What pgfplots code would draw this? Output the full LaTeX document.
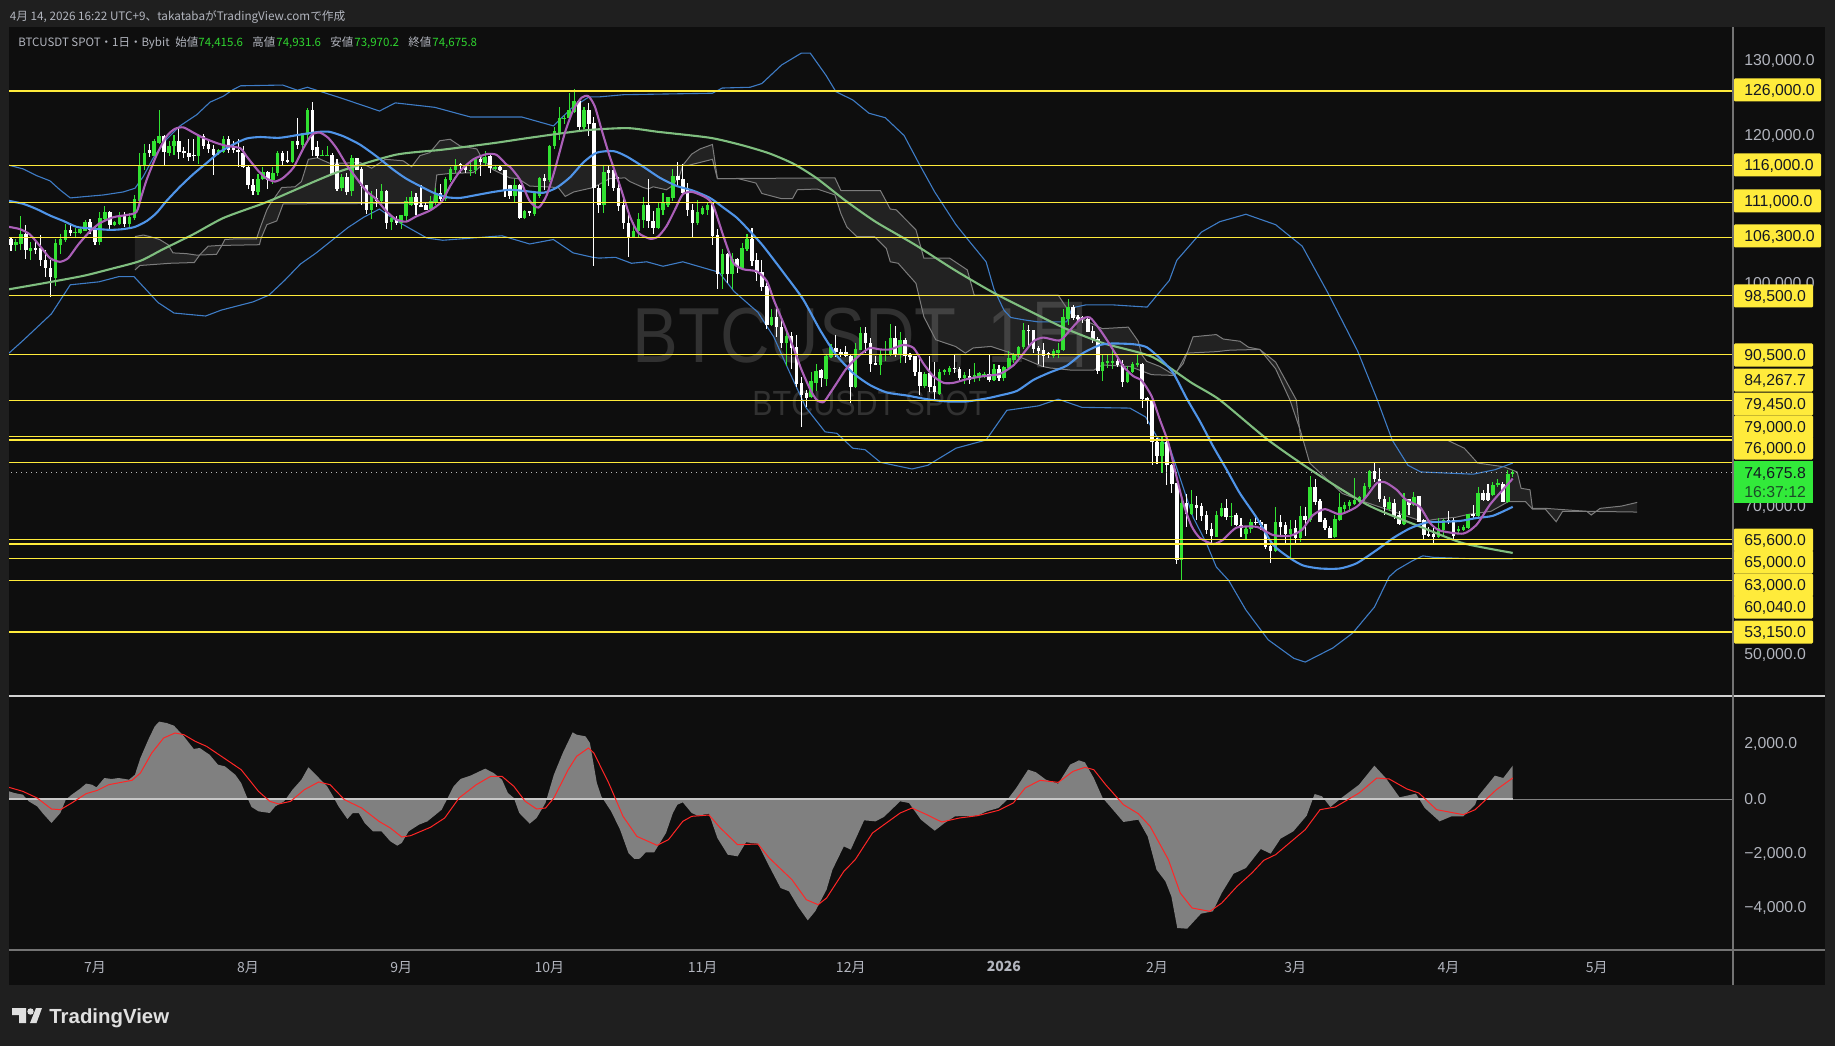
\documentclass[border=0pt]{standalone}
\usepackage{fontspec}
\usepackage{graphicx}
\usepackage{pgfplots}
\usepackage{pgfplotstable}
\pgfplotsset{compat=1.18}
\setmainfont{Liberation Sans}
\newfontfamily\jp{Noto Sans CJK JP}
\definecolor{outer}{HTML}{1F1F1F}
\definecolor{pane}{HTML}{0E0E0E}
\definecolor{cg}{HTML}{32E232}
\definecolor{cw}{HTML}{FFFFFF}
\definecolor{lev}{HTML}{FFEB3B}
\definecolor{mag}{HTML}{AB5FB8}
\definecolor{bm}{HTML}{4F94E8}
\definecolor{bb}{HTML}{3E7CC6}
\definecolor{lma}{HTML}{7FBE7F}
\definecolor{cln}{HTML}{7C7C7C}
\definecolor{ax}{HTML}{B2B5BE}
\definecolor{hdg}{HTML}{2FD42F}
\definecolor{lgreen}{HTML}{32EA3A}
\definecolor{ink}{HTML}{131722}
\definecolor{wm}{HTML}{313131}

\pgfplotstableread{
d o h l c
-17 106.1 106.3 104.4 105.3
-16 105.2 106.1 104.5 105.6
-15 105.4 109.1 104.6 106.8
-14 106.8 107.9 103.4 104.6
-13 104.5 105.6 103.2 104.9
-12 104.9 105.6 104.0 104.6
-11 104.8 106.6 102.4 103.2
-10 103.2 104.6 100.9 102.1
-9 102.2 103.2 98.3 100.9
-8 100.8 106.1 99.7 105.5
-7 105.3 106.7 104.1 106.1
-6 106.0 108.1 105.7 107.3
-5 107.3 108.2 106.5 106.9
-4 106.9 107.6 106.4 107.0
-3 106.9 107.5 106.8 107.4
-2 107.2 108.6 107.2 108.4
-1 108.4 108.8 106.8 107.3
0 107.3 107.8 105.3 105.6
1 105.7 109.7 105.2 108.9
2 108.8 110.5 108.5 109.7
3 109.7 109.9 107.3 107.9
4 107.9 108.5 107.8 108.3
5 108.1 109.7 107.9 109.2
6 109.2 109.7 107.7 108.1
7 108.1 109.6 107.4 109.0
8 108.9 112.0 108.6 111.4
9 111.2 117.6 110.8 116.1
10 116.0 118.9 115.3 117.6
11 118.1 118.8 117.1 117.7
12 117.3 119.5 117.2 119.2
13 119.0 123.4 118.8 119.9
14 119.9 120.1 115.9 117.8
15 117.7 119.2 117.2 118.6
16 118.6 120.1 117.4 119.2
17 119.2 120.9 116.9 117.8
18 117.9 118.5 117.0 117.7
19 117.7 119.6 116.6 117.1
20 117.4 119.6 116.6 117.3
21 117.3 120.1 116.2 119.9
22 120.0 120.2 118.2 118.6
23 118.8 119.5 117.7 118.2
24 118.2 118.7 114.7 117.4
25 117.6 118.2 117.4 118.0
26 117.8 119.9 117.6 119.5
27 119.5 119.9 117.6 118.0
28 118.4 119.3 117.6 118.0
29 118.0 119.5 115.8 117.9
30 117.7 118.6 115.6 115.8
31 115.8 116.1 112.8 113.3
32 113.4 114.1 112.0 112.5
33 112.4 114.8 112.0 114.2
34 114.1 115.8 114.0 115.1
35 115.1 115.2 112.8 114.0
36 114.0 115.8 113.5 115.0
37 114.9 117.9 114.6 117.6
38 117.6 117.9 116.1 116.6
39 116.7 117.9 116.3 116.4
40 116.4 119.3 116.3 119.3
41 119.3 122.3 118.2 118.7
42 118.7 120.4 118.2 120.3
43 120.1 123.7 119.2 123.4
44 123.4 124.5 117.2 118.1
45 118.4 119.3 117.0 117.3
46 117.3 118.0 117.2 117.4
47 117.3 118.6 117.2 117.4
48 117.4 117.6 114.8 114.8
49 116.2 116.8 112.6 112.8
50 113.0 114.8 112.5 114.4
51 114.4 114.9 112.0 112.4
52 112.6 117.4 111.8 117.0
53 117.0 117.0 115.4 115.4
54 115.5 115.8 110.6 113.2
55 113.4 113.4 109.4 110.0
56 110.0 112.5 108.7 111.8
57 111.6 112.8 110.4 111.2
58 111.2 113.5 110.7 112.6
59 112.6 112.7 107.4 108.2
60 108.3 109.0 107.3 108.9
61 108.8 109.2 108.0 108.2
62 108.2 109.3 107.4 109.3
63 109.2 111.7 108.5 111.2
64 110.7 112.6 110.5 111.7
65 111.7 112.2 109.3 110.6
66 110.6 113.4 110.4 110.5
67 110.6 111.0 110.0 110.0
68 110.1 111.8 110.0 111.2
69 111.0 113.0 110.6 112.3
70 112.2 113.5 111.2 111.5
71 111.4 114.4 111.2 114.2
72 114.0 115.8 113.7 115.5
73 115.4 116.8 115.0 116.0
74 116.1 116.3 115.0 116.0
75 116.0 116.0 115.0 115.4
76 115.3 116.7 114.6 115.4
77 115.3 117.1 114.8 116.9
78 116.9 117.2 114.6 116.4
79 116.3 117.9 115.9 117.1
80 117.2 117.4 115.0 115.6
81 115.5 116.0 115.3 115.7
82 115.7 115.9 115.2 115.3
83 115.3 115.4 111.7 112.6
84 113.4 113.4 111.5 111.8
85 111.9 114.1 111.1 113.4
86 113.4 113.5 108.8 108.9
87 108.9 110.0 108.8 109.8
88 109.8 109.9 109.1 109.7
89 109.5 112.5 109.2 112.3
90 111.8 114.4 111.6 114.3
91 114.3 114.8 112.7 113.9
92 114.0 118.7 113.8 118.6
93 118.6 121.1 118.2 120.6
94 120.3 123.8 119.4 122.3
95 122.2 122.8 121.6 122.4
96 122.3 125.7 122.1 123.5
97 123.2 126.3 123.0 124.7
98 124.7 124.9 120.7 121.2
99 121.2 123.9 120.9 123.4
100 123.4 124.4 119.9 121.6
101 121.7 122.5 102.4 113.0
102 112.9 113.4 109.6 110.6
103 110.6 115.9 109.6 115.1
104 115.3 115.9 113.2 114.9
105 115.3 115.5 112.6 113.0
106 113.0 114.4 109.9 110.5
107 110.7 112.1 107.4 108.2
108 108.2 109.6 103.6 106.4
109 106.4 108.4 106.4 107.2
110 107.1 109.6 106.2 108.7
111 108.6 111.7 107.5 110.6
112 110.6 114.1 107.6 108.5
113 108.5 109.8 106.7 107.5
114 107.5 110.9 107.4 110.2
115 110.0 112.2 109.3 111.0
116 110.6 111.7 110.4 111.7
117 111.6 115.5 111.2 114.6
118 114.6 116.5 113.3 114.0
119 114.1 116.2 112.0 112.2
120 113.0 113.6 109.1 110.0
121 110.0 110.8 106.4 108.2
122 108.2 111.3 108.0 109.7
123 109.5 110.5 109.3 110.2
124 110.0 111.0 109.3 110.6
125 111.0 111.0 105.3 106.5
126 106.6 107.4 99.3 101.4
127 101.4 104.7 99.3 104.0
128 104.0 104.2 100.2 101.3
129 101.3 104.2 99.3 103.4
130 103.4 103.5 101.5 102.4
131 102.2 105.5 101.9 104.8
132 104.7 106.8 104.4 106.1
133 106.1 107.6 102.5 103.1
134 103.2 104.2 100.4 101.5
135 101.6 103.3 99.0 99.6
136 99.8 100.2 93.9 94.5
137 94.5 96.7 94.4 95.5
138 95.5 96.6 92.9 94.2
139 94.2 95.2 91.4 92.0
140 92.0 93.6 89.0 93.0
141 93.0 93.6 88.6 91.4
142 91.5 93.1 86.2 86.6
143 86.7 87.5 80.7 85.1
144 85.3 85.7 83.5 84.6
145 84.8 88.2 84.6 86.9
146 86.7 89.2 85.6 88.3
147 88.4 88.6 86.2 87.3
148 87.2 90.6 86.3 90.3
149 90.2 91.9 90.1 91.5
150 91.4 93.2 90.2 90.8
151 90.8 91.2 90.2 90.7
152 90.8 91.6 90.2 90.3
153 90.3 90.5 84.0 86.2
154 86.2 92.0 86.0 91.2
155 91.1 94.2 91.1 93.4
156 93.4 94.2 90.7 92.0
157 92.0 92.7 88.1 89.3
158 89.4 90.3 89.1 89.2
159 89.1 91.1 87.8 90.5
160 90.5 92.3 89.6 90.6
161 90.5 94.6 90.3 92.8
162 92.8 94.4 90.2 90.4
163 90.5 93.6 89.4 92.5
164 92.5 92.7 89.4 90.3
165 90.4 90.7 89.8 90.2
166 90.3 90.3 87.6 88.1
167 88.2 90.0 85.1 86.3
168 86.3 88.2 86.0 87.9
169 88.0 90.3 85.4 86.1
170 86.3 89.5 84.4 85.4
171 85.2 88.5 85.0 88.1
172 88.1 88.6 87.8 88.4
173 88.2 89.0 87.7 88.7
174 88.7 90.6 88.0 88.6
175 88.6 88.8 87.1 87.3
176 87.4 88.1 86.6 87.7
177 87.6 88.5 86.6 87.1
178 87.5 89.4 86.8 87.7
179 87.4 88.1 87.0 88.0
180 87.6 88.2 87.4 87.9
181 87.9 90.4 86.8 87.1
182 87.1 89.3 86.9 88.6
183 88.6 89.1 87.0 87.3
184 87.4 89.0 87.0 88.8
185 88.7 91.0 88.4 90.1
186 89.8 90.7 89.4 90.6
187 90.5 91.7 90.0 91.5
188 91.5 94.8 91.3 93.8
189 93.8 94.5 91.6 93.7
190 93.8 93.8 90.7 91.3
191 91.4 91.6 89.2 91.0
192 91.1 92.0 88.9 90.3
193 90.7 90.9 90.0 90.5
194 90.3 91.3 90.0 91.0
195 90.7 92.0 90.0 91.1
196 91.1 96.6 91.0 95.5
197 95.3 98.0 94.5 96.9
198 96.9 97.2 95.2 95.4
199 95.5 95.8 94.9 95.4
200 95.5 95.7 94.7 95.4
201 95.3 95.6 93.5 93.6
202 93.7 94.3 92.0 92.5
203 92.6 92.9 87.9 88.3
204 88.3 90.6 87.0 89.5
205 89.5 90.5 88.7 89.6
206 89.5 91.1 88.6 89.6
207 89.6 90.0 88.9 89.1
208 89.2 89.8 86.2 86.8
209 86.8 89.0 86.7 88.2
210 88.1 89.5 88.0 89.2
211 89.2 90.5 88.9 89.3
212 89.3 89.4 83.3 84.5
213 84.7 84.8 81.2 84.4
214 84.3 84.4 75.7 78.7
215 78.8 79.3 75.8 76.9
216 76.9 79.5 74.6 78.7
217 78.7 79.3 73.0 75.6
218 75.7 75.8 71.9 73.1
219 73.2 73.2 62.3 62.8
220 62.8 71.7 60.05 70.5
221 70.5 71.7 67.3 69.1
222 69.0 72.3 68.9 70.4
223 70.3 71.5 68.2 69.9
224 70.1 70.5 68.1 68.8
225 68.9 69.4 66.4 66.9
226 67.0 67.8 65.2 66.1
227 66.0 69.5 65.9 68.9
228 68.8 70.5 68.7 69.8
229 69.8 71.0 68.2 68.6
230 68.7 70.5 67.4 68.8
231 68.9 69.2 67.4 67.5
232 67.6 68.5 65.9 67.1
233 66.3 67.4 65.6 67.0
234 67.0 68.3 66.5 67.9
235 68.0 68.7 67.6 67.9
236 68.0 68.2 66.9 67.5
237 67.7 67.7 64.3 64.6
238 64.7 65.0 62.5 64.0
239 64.0 70.0 63.9 68.0
240 68.0 68.9 65.9 67.3
241 67.5 68.0 65.0 66.3
242 66.3 68.2 63.0 67.0
243 67.1 68.2 65.0 65.8
244 65.8 70.1 65.3 68.8
245 68.8 70.0 66.1 68.2
246 68.2 74.1 68.0 72.7
247 72.7 73.7 70.3 70.7
248 70.8 71.0 67.9 68.0
249 68.2 68.5 66.9 67.1
250 67.2 67.4 65.8 65.8
251 65.9 68.9 65.8 68.3
252 68.2 71.8 68.1 70.0
253 69.7 70.7 69.2 70.3
254 70.1 70.9 69.3 70.6
255 70.4 73.9 70.3 70.9
256 70.6 71.4 70.5 71.3
257 71.0 73.2 70.8 72.8
258 72.7 75.0 72.4 74.8
259 74.8 76.0 73.4 73.7
260 73.8 75.2 70.6 71.0
261 71.1 71.4 68.9 70.0
262 69.7 71.3 69.5 70.7
263 70.5 71.0 68.4 68.8
264 68.9 69.4 67.5 67.7
265 67.7 71.8 67.6 71.0
266 71.0 71.0 68.9 70.3
267 70.3 72.0 70.1 71.3
268 71.4 71.5 67.9 68.0
269 68.2 68.3 65.6 66.2
270 66.3 67.3 65.9 66.2
271 66.4 67.1 65.0 65.9
272 65.9 68.5 65.8 67.1
273 66.9 68.4 66.0 68.2
274 68.2 69.4 67.7 68.0
275 68.2 68.5 65.7 66.1
276 66.9 67.4 66.5 67.0
277 66.9 67.6 66.8 67.3
278 67.1 69.1 67.0 69.0
279 69.0 70.2 68.4 68.8
280 68.8 72.7 68.4 71.8
281 71.8 72.3 70.8 70.9
282 71.8 73.1 70.8 70.9
283 71.6 73.4 71.5 72.9
284 73.0 73.7 72.7 73.2
285 73.1 73.4 70.6 70.7
286 70.7 75.0 70.5 74.4
287 74.4156 74.9316 73.9702 74.6758
}\candles

\pgfplotstableread{
d p
-17.4 116.0
-14.5 115.5
-11.8 114.6
-9.1 113.9
-7.1 112.7
-5 111.6
-1.7 111.8
1.7 112
5.7 112.4
8.1 112.9
9.8 114.5
11.8 117
14.5 119.5
17.2 121.3
20.6 122.8
23.3 124.5
26 125.3
28 126.2
29.5 126.7
38 126.8
41 126.1
43 126.5
49.6 125.1
57.6 123.3
60.8 124.4
68.8 123.8
76 122.5
86.4 122.5
92.8 121.3
96.5 123.7
100 125.2
102 125.2
107 125.5
116 125.6
125 125.7
127 126.4
132.6 126.5
135 127
139 129.5
143 131.1
144.8 131.1
148 128.1
150 125.9
153.4 124.8
156.7 123
160 122.4
163.8 120
167 116
170 112.4
174.3 108
176.7 106
180.4 103
182 99.3
184 96.5
185.4 95.5
187.9 95.2
191 94.9
196.7 94.9
197.8 96.8
200.6 97.2
206 97.2
213 96.9
217.5 100.5
219 103.2
224 107
227.7 108.4
233 109.4
239 108
244.4 105.1
249.6 98.8
255.6 91
259.6 84.4
262.6 79
265.8 75.6
268.4 74.7
279 74.4
283.4 75
287 75.9
}\bbup

\pgfplotstableread{
d p
-17.4 90.7
-14.4 92.5
-8.8 96
-5 99.9
0.8 100.3
4.8 101
7.9 101
12.8 97.5
16 96.1
22.4 95.7
25.6 96.5
32 97.6
35.2 98.5
38.4 100.5
41.6 102.7
44.8 104.2
48 105.9
51.2 107.6
54.4 109
57.6 110.1
60.8 108.6
67.2 106.2
70.4 105.9
82.4 106.5
88 105.4
92.8 106
96.8 104.2
100.8 103.6
102 103.5
105.4 103.6
108.6 102.8
111.7 103
115 102.4
119 103
124.7 101.9
126.3 101.6
129.4 99
134.2 96.2
137.4 92.9
140.7 88
143.9 83.4
147.8 80.1
150.2 79.9
153.4 77.9
155.9 77.7
159 76
165.4 75.1
168.6 75.6
174.3 77.9
180.4 79
184.6 83
191 83.6
195 84.5
199.8 83.4
209.5 83.3
212.7 82.1
215 79.4
217.6 78
219.6 74
222.3 68.6
225 65.1
227 61.9
229.5 60.1
233 56.1
237.5 52.1
242.7 49.6
245 49.1
250.6 51
254.6 53
259 56.5
262 60.6
263.5 61.5
266.6 62.7
268.8 63.4
271 63.2
279 63
287 63
}\bblo

\pgfplotstableread{
d p
-17.4 111.2
-14.5 110.8
-11.8 110.1
-9 109.2
-6.4 108.5
-3.7 107.7
-1 107.5
3 107.3
5.7 107.4
8.1 107.7
10.5 108.5
12.5 109.6
14.5 111.2
17.2 113.1
19.9 114.8
22.6 116.3
25.3 117.8
28 118.8
30.7 119.6
33.4 119.8
37.4 119.7
42.2 120.2
45.5 120.5
47.5 120.5
50.3 119.9
53.6 118.8
57 117.2
60.4 115.4
63 114.2
65.8 113.2
68.5 112.3
71.2 111.7
73.9 111.6
77.3 112
80.6 112.4
84 112.7
87.4 112.5
90.8 112.3
93.5 113
96.2 114.4
98.9 116.4
101.6 117.7
105 117.9
107.6 117.2
111 115.8
114.4 114.3
117.8 113.2
121 112.6
124.5 111.6
127.2 110.3
130 108.9
132.6 107.1
135.3 105.1
140 101
143.4 97.9
146.8 93.8
150 90.5
153.5 88
156.9 86.4
160.3 85.4
164.3 85
168.4 84.5
172.4 84.2
176.5 84.2
180.5 84.6
183.2 85
186.6 85.6
190 87.1
193.3 88.1
196.7 89
200 90.7
203.5 91.8
206.1 92
210.2 91.9
212.9 91.5
215.6 90
218.3 88
221 84.6
223.7 81.5
226.4 78.1
229.1 75
231.8 71.8
235.2 68.5
238.5 64.9
241.9 63.1
244.6 62.1
248 61.7
252 61.7
255.4 62.4
259.5 64.2
262.8 65.8
266.2 67.1
269.6 67.9
273 68
276.3 68.1
279.7 68.5
283 68.8
287 70
}\bmid

\pgfplotstableread{
d p
-17.4 107.7
-15.2 107.4
-13.2 106.7
-11.1 105.1
-9.1 103.5
-7.1 103
-5.4 103.5
-3.4 105.3
-1 107.1
1 108.2
3.7 109
6.4 109.3
8.4 109.7
9.4 111.8
10.5 114.1
12.5 117.4
14.5 119.9
16.2 120.9
17.9 121.1
19.9 120.4
21.9 119.7
24.6 119
26.7 118.6
29.4 118.3
30.7 117.2
32 116.1
33.4 115
34.8 114.2
36.4 113.8
38.1 114.3
40.2 115.7
42.2 118.3
43.9 120.1
45.5 120.4
47.2 119.7
48.9 118.3
50.9 116.1
52.9 114.3
55 112.5
57 111.4
59 109.8
61 108.7
63 108.4
65 109.1
67.8 109.9
70.2 111.1
71.9 113.2
73.9 115.2
76.6 116.8
79.3 117.5
81.3 117.4
83.3 116.1
84 115.8
86 114.1
88 111.2
89.8 110.3
91.4 111.9
93.1 115.4
95.1 120.3
96.8 123.4
98.5 125.1
99.9 125.3
101.2 123.9
102.6 120.7
104.2 117.2
106.3 113.2
108.3 109.1
110 106.9
112.4 106.1
114 106.4
115.7 107.8
117.4 110
119 112.1
121 112.4
123.8 111.6
125.2 110.5
127.2 106.5
129.2 102.9
131.2 102
134 101.7
136 100.4
137.4 97.9
139.4 94.7
141.4 91.4
143 88.5
144.8 85.8
146.1 84.4
147.5 84.1
148.8 85.3
150.1 86.6
152.2 88.7
154.9 90.5
156.9 91.4
158.9 91.2
161 91.2
163.6 91.8
165.7 91.4
167.7 89.3
169.7 87.6
171.8 86.7
173.8 86.7
176.5 87.2
179.8 87.6
183.2 87.9
186 89.1
188 90.7
190 92.3
192 92.8
195.3 92.4
197.4 93.8
199.4 95.2
201.4 95.5
203.5 93.8
205.5 91.8
208.2 88.9
210.2 87.6
211.9 87
213.9 84.9
215.6 81.7
217.3 78.6
218.6 75
220.3 70.5
222 67.4
223.7 65.8
226.4 65
228.4 65.6
231.1 67.2
235.2 67.3
238.5 66.2
241.9 66.1
244.3 66.9
246.6 68.9
249 69.7
252 69
255.4 70
257.4 71.4
259.5 73.2
261.2 73.3
263.5 72.3
265.5 70.9
268.2 70
270.3 67.8
272.3 66.8
277 66.4
279.7 67.6
282.4 70.3
285 72.3
287 73.8
}\mashort

\pgfplotstableread{
d p
-17.4 99.3
-10.5 100.1
-2.4 101.1
3 102
9.1 103.1
13.8 104.7
19.9 106.7
26 108.9
33.4 110.7
36.8 111.6
48.8 115
60.8 117.4
70.4 118.1
80.9 119
88 119.7
99.2 120.7
107.8 121
114 120.5
124.5 119.7
131 118.7
136.5 117.6
141.4 116.2
146 114.3
151.8 111.3
158 108.4
166 105.3
174 101.9
182 98.8
190 96.1
196.5 94
204.3 92
214 90.2
222 86.7
227.7 84.4
237.5 79
247 74.6
257.8 70.2
268.4 67.3
277 65.1
287 63.8
}\malong

\pgfplotstableread{
d p
8.1 106.4
9.8 106.6
11.1 106.4
13.1 106
14.8 105.3
15.8 104.2
18.5 104.1
20.6 103.9
24.6 104
25.6 105.1
26.3 106
28.7 106.1
32.7 106.1
33.4 107.5
34.8 110
35.4 110.7
37.8 113
40.5 113.1
41.8 113.8
43.2 116.8
45 117
47.4 116.3
51 116.3
53.6 116.4
56 115.6
58.8 116.8
62.4 116.6
64.1 115.8
65.8 117.3
67.8 117.7
69.8 119.3
71.9 119.5
73.9 118.6
77.3 118.2
78.3 117
80.6 115.4
84 114.3
85.7 114.2
88 113.2
93.8 113
95.2 111.8
96.9 112.4
100.9 113
104.2 114.2
107.3 114.3
108.3 113.8
111 113
112 112.8
113 113.1
115.7 112.7
117 113.3
118.4 114.7
119 116
120.8 117.5
122.5 118.2
125 118.8
126 114.2
130.2 114.2
133.8 113.6
135 112.2
139 111.5
141.2 111.5
142.2 112.7
146.2 112.8
149.8 112
151 109.5
152.2 107.7
154.2 106.4
157.8 106.4
160.2 104.8
161 103
162.6 102.8
166.2 100.1
167.8 95.6
170.2 92.5
174.2 91.6
176.2 90.7
177.8 91.4
181.4 91.6
184.6 90.9
188.6 89.8
191.8 88.9
193.4 88.7
197.8 88.4
202.2 88.4
203.9 89.1
209.5 88.9
213.9 87.8
218.3 87.7
220.3 89.3
222.3 92.9
227 93.2
228.4 92.6
231.8 92.3
233.5 91.5
235.8 91.2
239 88.6
241.9 84.4
244.1 80.1
245.9 75.9
252.5 71.8
256.9 70.7
268.9 68
271 68.3
275.5 68.6
278.1 69
282.6 69.4
286.1 70.7
289.6 70.7
291 69.7
293.6 69.7
295.8 68
297.1 69.4
302 69.4
302.9 68.9
304.7 69.8
309 70.1
312.2 70.6
}\spana

\pgfplotstableread{
d p
8.1 101.9
9.1 102.5
15.2 102.8
20.1 102.9
21.3 104
22.9 105.1
25.3 105.2
33.3 105.3
33.6 106.1
34.8 108
36.8 108.5
38.1 110.8
68.5 110.9
69.2 114.7
71.9 114.9
76.6 115
78.3 116
117.7 116
120.2 116
125 116.8
126 114.2
149.8 114.3
151 112.6
159 112.6
161 110.1
162.2 110
166.2 107.3
167.8 103.5
173 103.5
176.6 101.9
178 98.5
195 98.5
197.4 96.1
203.9 94
209.2 94.2
211.2 92.3
211.9 90.5
212.9 89.6
215.6 88.9
218.6 87.7
221 90.7
227 90.9
229.8 91.1
235.8 91.2
239 89.5
243.2 84.4
244.1 79
273.7 79
277.2 77.9
279.9 75.9
285.2 75.4
287.9 74.7
288.7 72.5
290.5 72.3
291 69.8
293.6 69.8
302 69.4
312.2 69.3
}\spanb

% the cloud between the two spans: span A forward, span B back
\pgfplotstableread{
d p
8.1 106.4
9.8 106.6
11.1 106.4
13.1 106
14.8 105.3
15.8 104.2
18.5 104.1
20.6 103.9
24.6 104
25.6 105.1
26.3 106
28.7 106.1
32.7 106.1
33.4 107.5
34.8 110
35.4 110.7
37.8 113
40.5 113.1
41.8 113.8
43.2 116.8
45 117
47.4 116.3
51 116.3
53.6 116.4
56 115.6
58.8 116.8
62.4 116.6
64.1 115.8
65.8 117.3
67.8 117.7
69.8 119.3
71.9 119.5
73.9 118.6
77.3 118.2
78.3 117
80.6 115.4
84 114.3
85.7 114.2
88 113.2
93.8 113
95.2 111.8
96.9 112.4
100.9 113
104.2 114.2
107.3 114.3
108.3 113.8
111 113
112 112.8
113 113.1
115.7 112.7
117 113.3
118.4 114.7
119 116
120.8 117.5
122.5 118.2
125 118.8
126 114.2
130.2 114.2
133.8 113.6
135 112.2
139 111.5
141.2 111.5
142.2 112.7
146.2 112.8
149.8 112
151 109.5
152.2 107.7
154.2 106.4
157.8 106.4
160.2 104.8
161 103
162.6 102.8
166.2 100.1
167.8 95.6
170.2 92.5
174.2 91.6
176.2 90.7
177.8 91.4
181.4 91.6
184.6 90.9
188.6 89.8
191.8 88.9
193.4 88.7
197.8 88.4
202.2 88.4
203.9 89.1
209.5 88.9
213.9 87.8
218.3 87.7
220.3 89.3
222.3 92.9
227 93.2
228.4 92.6
231.8 92.3
233.5 91.5
235.8 91.2
239 88.6
241.9 84.4
244.1 80.1
245.9 75.9
252.5 71.8
256.9 70.7
268.9 68
271 68.3
275.5 68.6
278.1 69
282.6 69.4
286.1 70.7
289.6 70.7
291 69.7
293.6 69.7
295.8 68
297.1 69.4
302 69.4
302.9 68.9
304.7 69.8
309 70.1
312.2 70.6
312.2 69.3
302 69.4
293.6 69.8
291 69.8
290.5 72.3
288.7 72.5
287.9 74.7
285.2 75.4
279.9 75.9
277.2 77.9
273.7 79
244.1 79
243.2 84.4
239 89.5
235.8 91.2
229.8 91.1
227 90.9
221 90.7
218.6 87.7
215.6 88.9
212.9 89.6
211.9 90.5
211.2 92.3
209.2 94.2
203.9 94
197.4 96.1
195 98.5
178 98.5
176.6 101.9
173 103.5
167.8 103.5
166.2 107.3
162.2 110
161 110.1
159 112.6
151 112.6
149.8 114.3
126 114.2
125 116.8
120.2 116
117.7 116
78.3 116
76.6 115
71.9 114.9
69.2 114.7
68.5 110.9
38.1 110.8
36.8 108.5
34.8 108
33.6 106.1
33.3 105.3
25.3 105.2
22.9 105.1
21.3 104
20.1 102.9
15.2 102.8
9.1 102.5
8.1 101.9
}\cloudpoly

\pgfplotstableread{
d v
-17.4 0
-17.4 281
-16.3 220
-14.6 159
-13.4 -85
-11.7 -269
-10.5 -537
-8.8 -879
-7 -513
-5.9 -24
-4.7 159
-3 379
-1.8 562
-0.6 525
0.3 427
1.9 769
3.4 733
4.8 769
6.9 708
8.1 891
9.2 1502
10.8 2173
12.1 2662
13 2833
14.5 2784
16 2686
18 2295
20 1832
21.2 1868
23.2 1624
24.9 1258
26.3 1197
28.4 891
29.6 586
30.7 98
31.7 -293
33.1 -452
35.4 -513
36.5 -269
38.3 -85
40 342
41.8 708
43.2 1160
44.7 891
47 464
48.2 98
49.3 -269
51.1 -733
52.2 -513
53.4 -513
54.6 -879
56.3 -1184
58 -1184
59.8 -1551
61.2 -1709
62.1 -1612
63.5 -1184
65.6 -940
67.3 -818
70.2 -391
72.6 464
74 733
76 855
79 1111
80.7 952
82.4 708
83.6 220
84.8 37
85.9 -513
88 -904
89.4 -696
91.2 -147
92.9 891
94.7 1685
96.7 2442
97.5 2357
99.3 2295
100.2 2051
101.6 586
102.5 98
104.5 -452
106.3 -1123
108 -1978
109.2 -2198
110.3 -2186
111.5 -1954
113.2 -1954
115.6 -1245
117 -513
117.9 -208
119 -122
120.8 -513
122 -610
124.3 -537
126 -1429
128.1 -2039
130.1 -2100
131.8 -1587
134.2 -1636
136.5 -2466
138.8 -3260
140.5 -3382
142.3 -3932
144.3 -4444
145.8 -4115
148.1 -3321
149.3 -2589
151.6 -1734
153 -1856
155.7 -781
158 -818
159.7 -659
163 -85
164.8 -147
166 -452
167.2 -757
170 -1160
172 -879
174.1 -635
178.7 -610
180.5 -452
182.9 -330
184.7 -24
186.5 403
188.9 1074
190.5 977
192.5 708
195 562
197.4 1258
199.2 1416
200.4 1343
202.2 769
204 37
205.2 -208
208.2 -842
211.2 -757
213.1 -1368
214.9 -2588
216.7 -3016
217.9 -3565
219.1 -4725
221.1 -4750
223.9 -4200
226.3 -4115
228.1 -3443
230.5 -2735
233 -2527
236 -1832
238 -2002
240 -1453
242.6 -1184
245.3 -610
246.9 183
248.4 98
250.1 -293
252.3 37
255.9 525
259 1221
261.3 769
264.1 61
267.4 195
269.2 -330
272.2 -818
274.6 -635
277 -635
279.4 -208
280 98
283.4 855
285.1 769
287 1221
287 0
}\oscarea

\pgfplotstableread{
d v
-17.4 427
-14.6 281
-11.7 37
-8.8 -366
-7 -391
-4.7 -146
-1.8 195
0.5 317
2.8 525
7.5 684
9.2 952
11.5 1685
13.9 2234
16.2 2418
18 2357
20.3 2112
22.6 1929
26.1 1502
29.6 1074
33.1 281
35.4 -85
37.2 -183
39.6 -85
42.4 342
45.3 623
47.6 525
50.5 -24
54 -330
57.5 -818
59.8 -1062
62.1 -1392
63.9 -1343
67.9 -1037
70.8 -696
73.7 37
77.2 525
80.1 830
82.4 830
84.8 464
87.1 -85
89.4 -366
91.2 -330
92.9 37
95.8 1074
97.5 1563
99.9 1868
101 1685
104 586
106.9 -635
109.7 -1368
113.8 -1697
116.1 -1489
119 -818
120.8 -635
124.3 -586
126.6 -1062
130.1 -1673
134.2 -1648
136.5 -2161
141.1 -2955
144 -3688
146.4 -3871
148.1 -3627
151.6 -2650
153.9 -2222
157.4 -1245
163 -513
165.4 -330
168.4 -574
171.4 -842
175 -696
178.7 -610
182.9 -415
185.9 -147
188.3 403
191.3 684
195 610
198 1013
200.4 1160
202.2 1074
204.6 525
208.2 -208
211.2 -537
213.6 -1001
217.3 -2222
219.7 -3443
222.1 -3993
225.7 -4115
228.1 -3810
231.2 -3199
234.2 -2711
236.6 -2247
239 -2039
245 -1123
248 -391
251.1 -293
255.9 220
259.5 769
262 733
265.6 366
268 220
271.6 -391
277 -574
279.4 -391
283.7 342
287 769
}\oscline

\newcommand\candleplots[2]{%
 \addplot[draw=none,mark=none,forget plot,restrict x to domain=-100:500,
   error bars/.cd,y dir=both,y explicit,error mark=none,
   error bar style={draw=#1,line width=0.55pt}]
  table[x expr={(#2)?\thisrow{d}:-1000},
        y expr={500*(\thisrow{o}+\thisrow{c})},
        y error plus expr={1000*\thisrow{h}-500*(\thisrow{o}+\thisrow{c})},
        y error minus expr={500*(\thisrow{o}+\thisrow{c})-1000*\thisrow{l}}]{\candles};
 \addplot[draw=none,mark=none,forget plot,restrict x to domain=-100:500,
   error bars/.cd,y dir=both,y explicit,error mark=none,
   error bar style={draw=#1,line width=1.75pt}]
  table[x expr={(#2)?\thisrow{d}:-1000},
        y expr={500*(\thisrow{o}+\thisrow{c})},
        y error plus expr={max(500*abs(\thisrow{c}-\thisrow{o}),70)},
        y error minus expr={max(500*abs(\thisrow{c}-\thisrow{o}),70)}]{\candles};
}
\newcommand\lab[3]{% Y, text, right edge
 \fill[lev,rounded corners=0.6pt] (1734,{1046-#1-11.5}) rectangle (#3,{1046-#1+11.5});
 \node[anchor=base west,inner sep=0pt,text=ink,font=\fontsize{7.9}{9}\selectfont] at (1744,{1046-#1-5.6}) {#2};
}
\newcommand\hd[3]{\node[anchor=base west,inner sep=0pt,text=#2,font=\jp\fontsize{5.75}{8}\selectfont] at (#1,999) {#3};}

\begin{document}
\begin{tikzpicture}
\begin{scope}[x=0.5pt,y=0.5pt]
\fill[outer] (0,0) rectangle (1835,1046);
\fill[pane] (9,{1046-985}) rectangle (1825,{1046-27});
\node[anchor=base west,inner sep=0pt,text=wm,font=\fontsize{39}{40}\selectfont] at (632,{1046-363}) {\scalebox{.88}[1]{BTCUSDT, 1{\jp 日}}};
\node[anchor=base west,inner sep=0pt,text=wm,font=\fontsize{17.5}{18}\selectfont] at (752,{1046-415}) {\scalebox{.87}[1]{BTCUSDT SPOT}};
\end{scope}

\begin{axis}[at={(4.5pt,175pt)},anchor=south west,width=862pt,height=334.5pt,scale only axis,
  xmin=-17.4,xmax=331.6,ymin=44530,ymax=134618,
  axis line style={draw=none},tick style={draw=none},xtick=\empty,scaled y ticks=false,
  ytick={50000,70000,100000,120000,130000},
  yticklabels={{50,000.0},{70,000.0},{100,000.0},{120,000.0},{130,000.0}},
  yticklabel pos=right,
  yticklabel style={anchor=west,inner sep=0pt,xshift=5.5pt,text=ax,font=\fontsize{7.9}{9}\selectfont}]
\addplot[fill=white,fill opacity=0.085,draw=none,forget plot] table[x=d,y expr=\thisrow{p}*1000]{\cloudpoly};
\addplot[draw=cln,line width=0.5pt,forget plot] table[x=d,y expr=\thisrow{p}*1000]{\spana};
\addplot[draw=cln,line width=0.5pt,forget plot] table[x=d,y expr=\thisrow{p}*1000]{\spanb};
\addplot[draw=bb,line width=0.55pt] table[x=d,y expr=\thisrow{p}*1000]{\bbup};
\addplot[draw=bb,line width=0.55pt] table[x=d,y expr=\thisrow{p}*1000]{\bblo};
\candleplots{cg}{\thisrow{c}>=\thisrow{o}}
\candleplots{cw}{\thisrow{c}<\thisrow{o}}
\addplot[draw=lma,line width=1.05pt,line join=round,smooth,tension=0.4] table[x=d,y expr=\thisrow{p}*1000]{\malong};
\addplot[draw=bm,line width=1.05pt,line join=round,smooth,tension=0.4] table[x=d,y expr=\thisrow{p}*1000]{\bmid};
\addplot[draw=mag,line width=1.05pt,line join=round,smooth,tension=0.4] table[x=d,y expr=\thisrow{p}*1000]{\mashort};
\pgfplotsinvokeforeach{126000,116000,111000,106300,98500,90500,84267.7,79450,79000,76000,65600,65000,63000,60040,53150}{
 \addplot[draw=lev,line width=0.55pt,forget plot] coordinates {(-18,#1)(332,#1)};
}
\addplot[draw=white!75!black,line width=0.5pt,dotted,forget plot] coordinates {(-18,74675.8)(332,74675.8)};
\end{axis}

\begin{axis}[at={(4.5pt,48pt)},anchor=south west,width=862pt,height=127pt,scale only axis,
  xmin=-17.4,xmax=331.6,ymin=-5531,ymax=3773,
  axis line style={draw=none},tick style={draw=none},scaled y ticks=false,
  xtick={0,31,62,92,123,153,184,215,243,274,304},
  xticklabels={7月,8月,9月,10月,11月,12月,\textbf{2026},2月,3月,4月,5月},
  xticklabel style={text=ax,yshift=-2pt,font=\jp\fontsize{7}{8}\selectfont},
  ytick={-4000,-2000,0,2000},
  yticklabels={{−4,000.0},{−2,000.0},{0.0},{2,000.0}},
  yticklabel pos=right,
  yticklabel style={anchor=west,inner sep=0pt,xshift=5.5pt,text=ax,font=\fontsize{7.9}{9}\selectfont}]
\addplot[fill=white!50!black,draw=none,forget plot] table[x=d,y=v]{\oscarea};
\addplot[draw=white!78!black,line width=0.6pt,forget plot] coordinates {(-18,0)(287,0)};
\addplot[draw=white!50!black,line width=0.5pt,forget plot] coordinates {(287,0)(332,0)};
\addplot[draw=red!80!pink,line width=0.5pt] table[x=d,y=v]{\oscline};
\end{axis}

\begin{scope}[x=0.5pt,y=0.5pt]
\draw[white!82!black,line width=0.55pt] (9,{1046-696}) -- (1825,{1046-696});
\draw[white!45!black,line width=0.55pt] (9,{1046-950}) -- (1825,{1046-950});
\draw[white!45!black,line width=0.55pt] (1733,{1046-27}) -- (1733,{1046-985});

\lab{90}{126,000.0}{1821}
\lab{165}{116,000.0}{1821}
\lab{201}{111,000.0}{1821}
\lab{236}{106,300.0}{1821}
\lab{296}{98,500.0}{1813}
\lab{355}{90,500.0}{1813}
\lab{380}{84,267.7}{1813}
\lab{404}{79,450.0}{1813}
\lab{427}{79,000.0}{1813}
\lab{448}{76,000.0}{1813}
\lab{540}{65,600.0}{1813}
\lab{562}{65,000.0}{1813}
\lab{585}{63,000.0}{1813}
\lab{607}{60,040.0}{1813}
\lab{632}{53,150.0}{1813}
\fill[lgreen] (1734,{1046-503}) rectangle (1813,{1046-461});
\node[anchor=base west,inner sep=0pt,text=ink,font=\fontsize{7.9}{9}\selectfont] at (1744,{1046-478}) {74,675.8};
\node[anchor=base west,inner sep=0pt,text=ink!75!lgreen,font=\fontsize{7.9}{9}\selectfont] at (1744,{1046-497}) {16:37:12};

\node[anchor=base west,inner sep=0pt,text=ax,font=\jp\fontsize{5.85}{8}\selectfont] at (9.5,{1046-20.5}) {4月 14, 2026 16:22 UTC+9、takatabaがTradingView.comで作成};
\hd{18}{ax}{BTCUSDT SPOT・1日・Bybit}
\hd{175}{ax}{始値}\hd{198}{hdg}{74,415.6}
\hd{252}{ax}{高値}\hd{276}{hdg}{74,931.6}
\hd{330}{ax}{安値}\hd{354}{hdg}{73,970.2}
\hd{408}{ax}{終値}\hd{432}{hdg}{74,675.8}

\fill[white!88!black] (12,{1046-1008}) -- (26,{1046-1008}) -- (26,{1046-1023}) -- (19,{1046-1023}) -- (19,{1046-1015}) -- (12,{1046-1015}) -- cycle;
\fill[white!88!black] (30.5,{1046-1011.5}) circle (3.2);
\fill[white!88!black] (36,{1046-1008}) -- (42,{1046-1008}) -- (36.5,{1046-1023}) -- (30,{1046-1023}) -- cycle;
\node[anchor=base west,inner sep=0pt,text=white!88!black,font=\bfseries\fontsize{10.2}{12}\selectfont] at (49,{1046-1023}) {TradingView};
\end{scope}
\end{tikzpicture}
\end{document}
